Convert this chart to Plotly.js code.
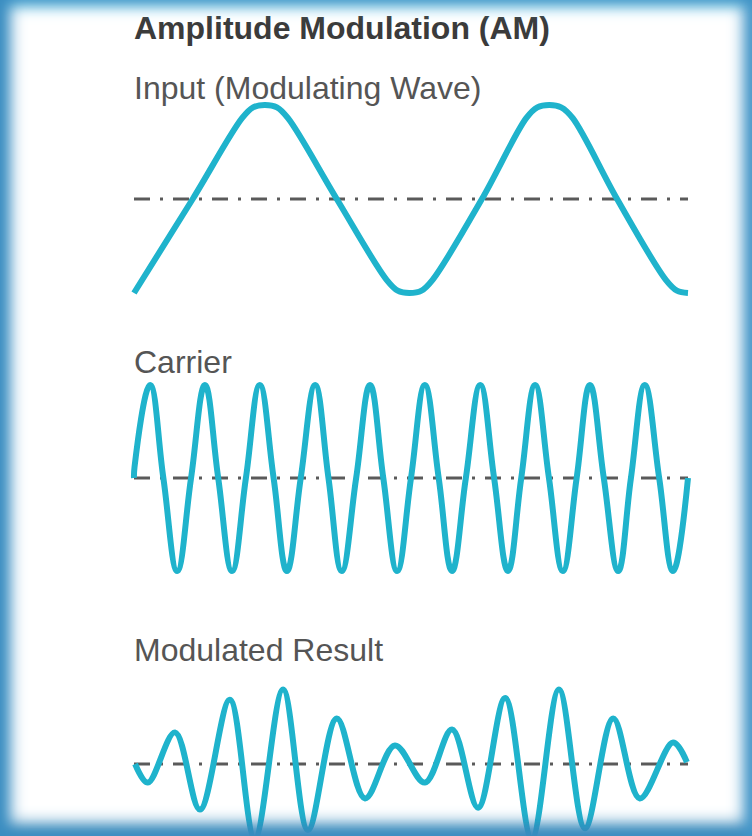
<!DOCTYPE html>
<html>
<head>
<meta charset="utf-8">
<script src="https://cdn.plot.ly/plotly-3.0.1.min.js"></script>
<style>
  html, body { margin: 0; padding: 0; background: #ffffff; }
  #wrap { position: relative; width: 752px; height: 836px; background: #ffffff; overflow: hidden; }
  #chart { position: absolute; left: 0; top: 0; width: 752px; height: 836px; }
  #frame {
    position: absolute; left: 0; top: 0; width: 752px; height: 836px; pointer-events: none;
    box-shadow:
      inset 12px 0 16px -2px #3a8cc0,
      inset -10px 0 16px -2px #4696c8,
      inset 0 10px 16px -4px #6cc4e3,
      inset 0 -14px 16px -2px #3386b9;
  }
</style>
</head>
<body>
<div id="wrap">
  <div id="chart"></div>
  <div id="frame"></div>
</div>
<script>
// ---- Data (time in carrier cycles, amplitude in relative units) ----
const titleText = "Amplitude Modulation (AM)";
const panelLabels = ["Input (Modulating Wave)", "Carrier", "Modulated Result"];

const baselineX = [0, 10];
const baselineY = [0, 0];

// Input (modulating) wave
const inputT = [0.00, 1.06, 1.95, 2.15, 2.36, 2.58, 2.78, 3.66, 4.56, 4.76, 4.97, 5.19, 5.39, 6.28, 7.08, 7.28, 7.50, 7.71, 7.92, 8.72, 9.60, 9.80, 10.00];
const inputV = [-1.00, 0.00, 0.86, 0.975, 1.00, 0.975, 0.86, 0.00, -0.86, -0.975, -1.00, -0.975, -0.86, 0.00, 0.86, 0.975, 1.00, 0.975, 0.86, 0.00, -0.86, -0.975, -1.00];

// Carrier wave
const carrierT = [0.00, 0.01, 0.29, 0.53, 0.78, 1.03, 1.28, 1.52, 1.77, 2.02, 2.27, 2.52, 2.76, 3.01, 3.27, 3.51, 3.75, 4.01, 4.26, 4.50, 4.75, 5.00, 5.25, 5.50, 5.74, 5.99, 6.25, 6.50, 6.75, 6.99, 7.24, 7.49, 7.74, 7.99, 8.23, 8.48, 8.74, 8.97, 9.22, 9.48, 9.73, 10.00];
const carrierV = [0, 0.12, 1, 0, -1, 0, 1, 0, -1, 0, 1, 0, -1, 0, 1, 0, -1, 0, 1, 0, -1, 0, 1, 0, -1, 0, 1, 0, -1, 0, 1, 0, -1, 0, 1, 0, -1, 0, 1, 0, -1, 0];

// Modulated result (start, alternating troughs and peaks, end)
const modT = [0.02, 0.25, 0.74, 1.19, 1.73, 2.18, 2.69, 3.14, 3.66, 4.17, 4.71, 5.25, 5.74, 6.21, 6.70, 7.18, 7.67, 8.14, 8.65, 9.13, 9.73, 9.98];
const modV = [0.00, -0.20, 0.34, -0.49, 0.69, -0.80, 0.80, -0.71, 0.49, -0.37, 0.20, -0.20, 0.37, -0.47, 0.71, -0.80, 0.80, -0.69, 0.49, -0.37, 0.23, 0.02];

// ---- Styling ----
const waveColor = "#1fb3cc";
const waveWidth = 6;
const dashStyle = "16px,10px,3px,10px";
const dashColor = "#5a5a5a";
const fontFam = "'Liberation Sans', Arial, Helvetica, sans-serif";

function baseline(yax) {
  return { x: baselineX, y: baselineY, xaxis: "x", yaxis: yax, mode: "lines",
           line: { color: dashColor, width: 3.2, dash: dashStyle }, hoverinfo: "skip", showlegend: false };
}
function wave(t, v, yax, sm) {
  return { x: t, y: v, xaxis: "x", yaxis: yax, mode: "lines",
           line: { color: waveColor, width: waveWidth, shape: "spline", smoothing: sm },
           hoverinfo: "skip", showlegend: false };
}

const traces = [
  baseline("y"), wave(inputT, inputV, "y", 1),
  baseline("y2"), wave(carrierT, carrierV, "y2", 1.2),
  baseline("y3"), wave(modT, modV, "y3", 1.0)
];

const hidden = { visible: false, fixedrange: true };
const layout = {
  width: 752, height: 836,
  margin: { l: 0, r: 0, t: 0, b: 0, pad: 0 },
  paper_bgcolor: "rgba(0,0,0,0)", plot_bgcolor: "rgba(0,0,0,0)",
  showlegend: false,
  xaxis: Object.assign({ domain: [0.17082, 0.92226], range: [-0.1, 10.1] }, hidden),
  yaxis: Object.assign({ domain: [0.61579, 0.90813], range: [-1.3, 1.3], anchor: "x" }, hidden),
  yaxis2: Object.assign({ domain: [0.28361, 0.57285], range: [-1.3, 1.3], anchor: "x" }, hidden),
  yaxis3: Object.assign({ domain: [0.0, 0.19737], range: [-0.774, 1.0], anchor: "x" }, hidden),
  annotations: [
    { text: "<b>" + titleText + "</b>", xref: "paper", yref: "paper", x: 0.1755, y: 0.9665,
      xanchor: "left", yanchor: "middle", showarrow: false,
      font: { family: fontFam, size: 32, color: "#3b3b3b" } },
    { text: panelLabels[0], xref: "paper", yref: "paper", x: 0.1755, y: 0.8947,
      xanchor: "left", yanchor: "middle", showarrow: false,
      font: { family: fontFam, size: 32, color: "#555555" } },
    { text: panelLabels[1], xref: "paper", yref: "paper", x: 0.1755, y: 0.5670,
      xanchor: "left", yanchor: "middle", showarrow: false,
      font: { family: fontFam, size: 32, color: "#555555" } },
    { text: panelLabels[2], xref: "paper", yref: "paper", x: 0.1755, y: 0.2225,
      xanchor: "left", yanchor: "middle", showarrow: false,
      font: { family: fontFam, size: 32, color: "#555555" } }
  ]
};

Plotly.newPlot("chart", traces, layout, { staticPlot: true, displayModeBar: false });
</script>
</body>
</html>
